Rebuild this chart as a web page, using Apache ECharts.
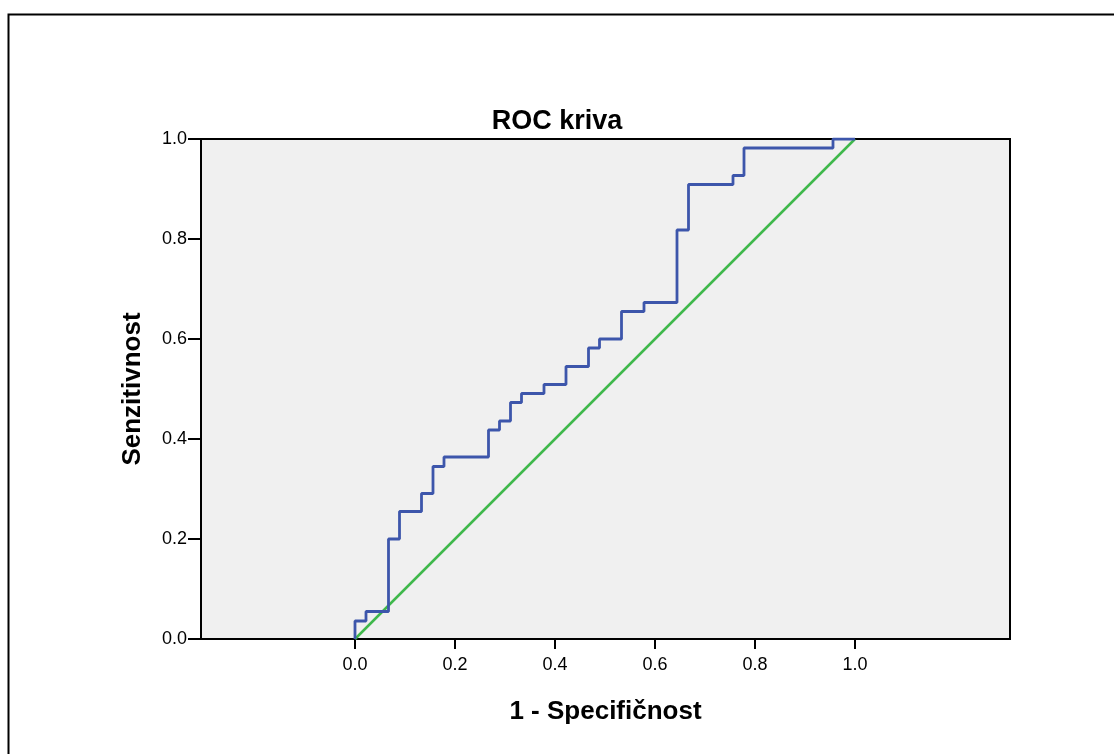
<!DOCTYPE html>
<html>
<head>
<meta charset="utf-8">
<script src="https://cdn.jsdelivr.net/npm/echarts@6/dist/echarts.min.js"></script>
<style>
html,body{margin:0;padding:0;background:#fff;}
#chart{width:1114px;height:754px;}
</style>
</head>
<body>
<div id="chart"></div>
<script>
// ROC curve corner points (1 - specificity, sensitivity)
const fpr = [0, 0, 0.022, 0.022, 0.067, 0.067, 0.089, 0.089, 0.133, 0.133, 0.156, 0.156, 0.178, 0.178, 0.267, 0.267, 0.289, 0.289, 0.311, 0.311, 0.333, 0.333, 0.378, 0.378, 0.422, 0.422, 0.467, 0.467, 0.489, 0.489, 0.533, 0.533, 0.578, 0.578, 0.644, 0.644, 0.667, 0.667, 0.756, 0.756, 0.778, 0.778, 0.956, 0.956, 1.0];
const tpr = [0, 0.036, 0.036, 0.055, 0.055, 0.2, 0.2, 0.255, 0.255, 0.291, 0.291, 0.345, 0.345, 0.364, 0.364, 0.418, 0.418, 0.436, 0.436, 0.473, 0.473, 0.491, 0.491, 0.509, 0.509, 0.545, 0.545, 0.582, 0.582, 0.6, 0.6, 0.655, 0.655, 0.673, 0.673, 0.818, 0.818, 0.909, 0.909, 0.927, 0.927, 0.982, 0.982, 1.0, 1.0];
// reference diagonal
const refX = [0, 1];
const refY = [0, 1];
// tick labels
const tickValues = [0, 0.2, 0.4, 0.6, 0.8, 1.0];

const FONT = 'Liberation Sans, Arial, Helvetica, sans-serif';
const chart = echarts.init(document.getElementById('chart'), null, {renderer: 'canvas'});

chart.setOption({
  backgroundColor: '#ffffff',
  animation: false,
  title: {
    text: 'ROC kriva',
    left: 'center',
    top: 103,
    textStyle: {fontFamily: FONT, fontWeight: 'bold', fontSize: 27, color: '#000'}
  },
  graphic: [{
    type: 'rect',
    left: 6, top: 12,
    shape: {width: 1200, height: 800},
    style: {fill: 'none', stroke: '#000', lineWidth: 2},
    silent: true
  }],
  grid: {
    left: 201, top: 139, width: 809, height: 500,
    show: true, backgroundColor: '#f0f0f0', borderColor: '#000', borderWidth: 2
  },
  xAxis: {
    type: 'value',
    min: -0.308, max: 1.31,
    name: '1 - Specifičnost',
    nameLocation: 'middle',
    nameGap: 60,
    nameTextStyle: {fontFamily: FONT, fontWeight: 'bold', fontSize: 26, color: '#000'},
    axisLine: {show: true, onZero: false, lineStyle: {color: '#000', width: 2}},
    axisTick: {show: true, length: 10, customValues: tickValues, lineStyle: {color: '#000', width: 2}},
    axisLabel: {customValues: tickValues, fontFamily: FONT, fontSize: 18, color: '#000', margin: 17,
      formatter: v => v.toFixed(1)},
    splitLine: {show: false}
  },
  yAxis: {
    type: 'value',
    min: 0, max: 1, interval: 0.2,
    name: 'Senzitivnost',
    nameLocation: 'middle',
    nameGap: 55,
    nameTextStyle: {fontFamily: FONT, fontWeight: 'bold', fontSize: 26, color: '#000'},
    axisLine: {show: true, onZero: false, lineStyle: {color: '#000', width: 2}},
    axisTick: {show: true, length: 13, lineStyle: {color: '#000', width: 2}},
    axisLabel: {fontFamily: FONT, fontSize: 18, color: '#000', margin: 14,
      formatter: v => v.toFixed(1)},
    splitLine: {show: false}
  },
  series: [
    {
      type: 'line',
      data: refX.map((x, i) => [x, refY[i]]),
      symbol: 'none',
      lineStyle: {color: '#3fb84b', width: 2.5},
      z: 2
    },
    {
      type: 'line',
      data: fpr.map((x, i) => [x, tpr[i]]),
      symbol: 'none',
      lineStyle: {color: '#3d56ab', width: 2.8},
      z: 3
    }
  ]
});
</script>
</body>
</html>
